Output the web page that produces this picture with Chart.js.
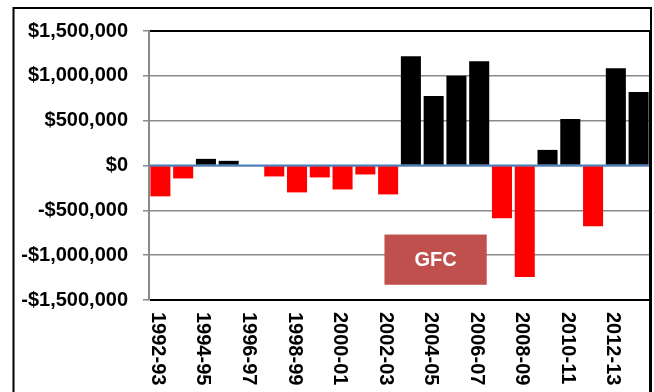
<!DOCTYPE html>
<html>
<head>
<meta charset="utf-8">
<script src="https://cdn.jsdelivr.net/npm/chart.js@4"></script>
<style>
  html, body { margin: 0; padding: 0; background: #fff; }
  #wrap { width: 654px; height: 392px; position: relative; }
</style>
</head>
<body>
<div id="wrap"><canvas id="chart"></canvas></div>
<script>
// Budget result by financial year
const years = ['1992-93', '1993-94', '1994-95', '1995-96', '1996-97', '1997-98', '1998-99',
    '1999-00', '2000-01', '2001-02', '2002-03', '2003-04', '2004-05', '2005-06', '2006-07',
    '2007-08', '2008-09', '2009-10', '2010-11', '2011-12', '2012-13', '2013-14'];
const result = [-344000, -144000, 74000, 52000, 0, -122000, -300000, -133000, -267000, -100000,
    -322000, 1219000, 774000, 1000000, 1163000, -589000, -1244000, 174000, 519000, -678000,
    1085000, 819000];
const yTicks = [-1500000, -1000000, -500000, 0, 500000, 1000000, 1500000];
const gfcText = 'GFC';

const FONT = '"Liberation Sans", Arial, sans-serif';
Chart.defaults.font.family = FONT;

function money(v) {
    const s = '$' + Math.abs(v).toLocaleString('en-US');
    return v < 0 ? '-' + s : s;
}

// Extra drawing: zero line, plot frame, GFC box, rotated year labels
const decorPlugin = {
    id: 'decor',
    beforeDraw(chart) {
        const ctx = chart.ctx;
        ctx.save();
        ctx.fillStyle = '#fff';
        ctx.fillRect(0, 0, chart.width, chart.height);
        ctx.restore();
    },
    afterDatasetsDraw(chart) {
        const { ctx, chartArea: a, scales: { x, y } } = chart;
        ctx.save();

        // zero line
        const y0 = y.getPixelForValue(0);
        ctx.strokeStyle = '#4a7ebb';
        ctx.lineWidth = 2;
        ctx.beginPath();
        ctx.moveTo(a.left, y0);
        ctx.lineTo(a.right, y0);
        ctx.stroke();

        // plot border (top, bottom, right)
        ctx.strokeStyle = '#000';
        ctx.lineWidth = 2;
        ctx.beginPath();
        ctx.moveTo(a.left + 1, a.top);
        ctx.lineTo(a.right + 1, a.top);
        ctx.moveTo(a.left + 1, a.bottom);
        ctx.lineTo(a.right + 1, a.bottom);
        ctx.stroke();
        ctx.lineWidth = 3;
        ctx.beginPath();
        ctx.moveTo(a.right + 0.5, a.top - 1);
        ctx.lineTo(a.right + 0.5, chart.height);
        ctx.stroke();

        // outer frame
        ctx.lineWidth = 2;
        ctx.beginPath();
        ctx.moveTo(13.5, chart.height);
        ctx.lineTo(13.5, 8);
        ctx.lineTo(a.right + 1, 8);
        ctx.lineTo(a.right + 1, a.top);
        ctx.stroke();

        // GFC annotation box
        const bx1 = x.getPixelForValue(9.84);
        const bx2 = x.getPixelForValue(14.33);
        const by1 = y.getPixelForValue(-770000);
        const by2 = y.getPixelForValue(-1330000);
        ctx.fillStyle = '#c0504d';
        ctx.fillRect(bx1, by1, bx2 - bx1, by2 - by1);
        ctx.fillStyle = '#fff';
        ctx.font = 'bold 20px ' + FONT;
        ctx.textAlign = 'center';
        ctx.textBaseline = 'middle';
        ctx.fillText(gfcText, (bx1 + bx2) / 2, (by1 + by2) / 2 + 1);

        // year labels, every second one, reading downwards
        ctx.fillStyle = '#000';
        ctx.font = 'bold 20px ' + FONT;
        ctx.textAlign = 'left';
        ctx.textBaseline = 'middle';
        years.forEach((label, i) => {
            if (i % 2 !== 0) return;
            const px = x.getPixelForTick(i) - 3;
            ctx.save();
            ctx.translate(px, a.bottom + 12);
            ctx.rotate(Math.PI / 2);
            ctx.fillText(label, 0, 0);
            ctx.restore();
        });

        ctx.restore();
    }
};

new Chart(document.getElementById('chart'), {
    type: 'bar',
    data: {
        labels: years,
        datasets: [{
            data: result,
            backgroundColor: ctx => (ctx.raw < 0 ? '#ff0000' : '#000000'),
            borderWidth: 0,
            barPercentage: 0.88,
            categoryPercentage: 1.0
        }]
    },
    options: {
        responsive: true,
        maintainAspectRatio: false,
        animation: false,
        layout: { padding: { top: 31, right: 4, left: 0, bottom: 0 } },
        plugins: {
            legend: { display: false },
            tooltip: { enabled: false }
        },
        scales: {
            x: {
                grid: { display: false, drawTicks: false },
                border: { display: false },
                ticks: { display: false },
                afterFit: scale => { scale.height = 92; }
            },
            y: {
                min: -1500000,
                max: 1500000,
                afterBuildTicks: scale => {
                    scale.ticks = yTicks.map(v => ({ value: v }));
                },
                afterFit: scale => { scale.width = 149; },
                grid: {
                    color: '#8a8a8a',
                    lineWidth: 1.5,
                    tickLength: 6,
                    tickColor: '#8a8a8a'
                },
                border: { color: '#8a8a8a', width: 2 },
                ticks: {
                    padding: 15,
                    color: '#000',
                    font: { size: 20, weight: 'bold' },
                    callback: v => money(v)
                }
            }
        }
    },
    plugins: [decorPlugin]
});
</script>
</body>
</html>
